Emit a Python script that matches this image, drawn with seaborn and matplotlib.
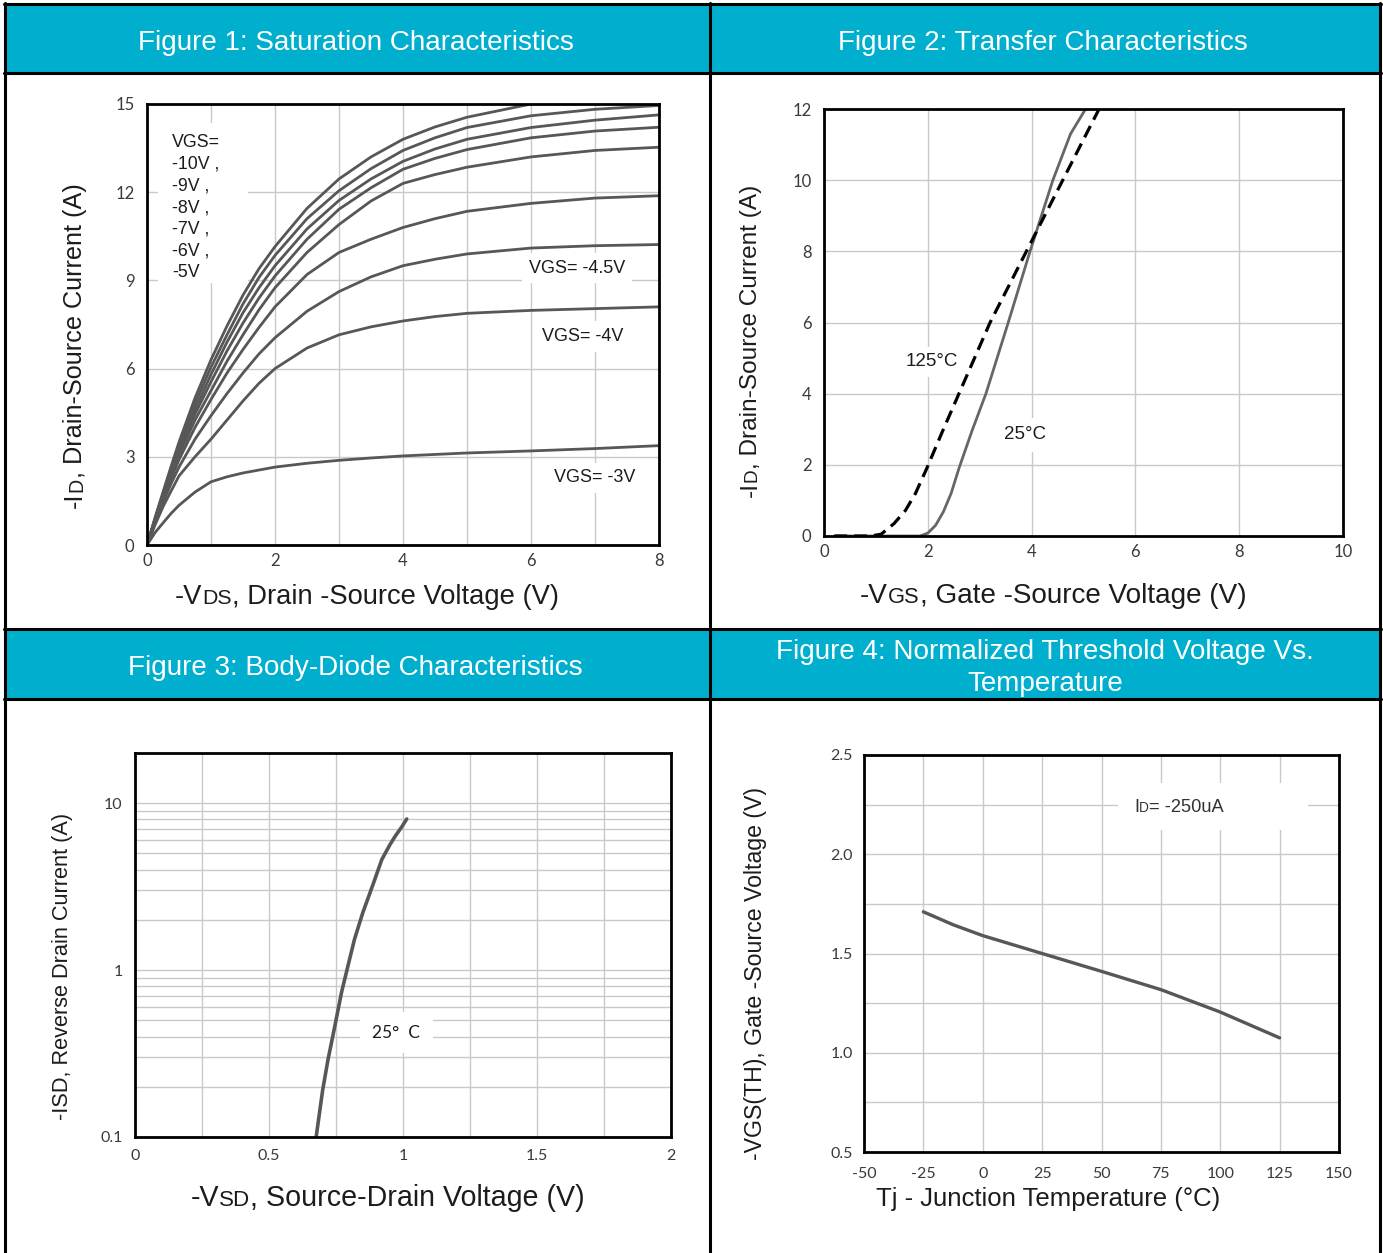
import matplotlib
matplotlib.use("Agg")
import matplotlib.pyplot as plt
import seaborn as sns
import numpy as np
import pandas as pd
from matplotlib import font_manager as fm
from matplotlib.patches import Rectangle
from matplotlib.lines import Line2D

# ---------------- data ----------------
# Figure 1: saturation characteristics
VDS = [0, 0.125, 0.25, 0.375, 0.5, 0.75, 1, 1.25, 1.5, 1.75, 2, 2.5, 3, 3.5, 4, 4.5, 5, 6, 7, 8]
VGS_LEVELS = ["-10V", "-9V", "-8V", "-7V", "-6V", "-5V", "-4.5V", "-4V", "-3V"]
ID_10V = [0, 0.92, 1.8, 2.66, 3.5, 5.0, 6.3, 7.45, 8.5, 9.4, 10.15, 11.45, 12.45, 13.2, 13.8, 14.22, 14.55, 15.0, 15.2, 15.3]
ID_9V = [0, 0.9, 1.75, 2.6, 3.4, 4.8, 6.05, 7.15, 8.2, 9.1, 9.85, 11.1, 12.05, 12.8, 13.42, 13.85, 14.2, 14.6, 14.82, 14.95]
ID_8V = [0, 0.87, 1.7, 2.52, 3.3, 4.6, 5.8, 6.9, 7.9, 8.75, 9.5, 10.75, 11.72, 12.45, 13.05, 13.47, 13.8, 14.2, 14.45, 14.63]
ID_7V = [0, 0.85, 1.65, 2.45, 3.2, 4.45, 5.55, 6.6, 7.55, 8.4, 9.15, 10.4, 11.42, 12.15, 12.78, 13.15, 13.45, 13.85, 14.08, 14.21]
ID_6V = [0, 0.82, 1.6, 2.35, 3.05, 4.25, 5.25, 6.25, 7.15, 8.0, 8.75, 9.95, 10.9, 11.7, 12.3, 12.6, 12.85, 13.2, 13.42, 13.53]
ID_5V = [0, 0.8, 1.55, 2.25, 2.9, 4.0, 4.95, 5.85, 6.65, 7.4, 8.1, 9.2, 9.95, 10.4, 10.8, 11.1, 11.35, 11.62, 11.8, 11.88]
ID_45V = [0, 0.75, 1.45, 2.08, 2.65, 3.6, 4.4, 5.15, 5.85, 6.5, 7.05, 7.95, 8.62, 9.12, 9.5, 9.72, 9.9, 10.1, 10.18, 10.22]
ID_4V = [0, 0.68, 1.3, 1.83, 2.35, 3.0, 3.6, 4.25, 4.9, 5.5, 6.0, 6.7, 7.15, 7.42, 7.62, 7.77, 7.88, 7.98, 8.04, 8.1]
ID_3V = [0, 0.42, 0.75, 1.07, 1.35, 1.8, 2.15, 2.32, 2.45, 2.55, 2.65, 2.78, 2.88, 2.96, 3.03, 3.08, 3.13, 3.2, 3.28, 3.38]

# Figure 2: transfer characteristics
VGS_25 = [0.2, 1.85, 2.0, 2.15, 2.3, 2.45, 2.6, 2.85, 3.12, 3.55, 3.97, 4.41, 4.75, 5.04]
ID_25 = [0, 0, 0.08, 0.3, 0.68, 1.2, 1.9, 2.95, 4.0, 6.0, 8.0, 10.0, 11.3, 12.0]
VGS_125 = [0.2, 0.9, 1.1, 1.35, 1.57, 1.76, 1.98, 2.3, 2.6, 3.2, 3.9, 4.6, 5.3]
ID_125 = [0, 0, 0.05, 0.35, 0.72, 1.19, 1.9, 3.0, 4.0, 6.0, 8.0, 10.0, 12.0]

# Figure 3: body-diode characteristics
VSD = [0.676, 0.70, 0.72, 0.743, 0.771, 0.80, 0.819, 0.85, 0.886, 0.921, 0.95, 0.971, 0.995, 1.014]
ISD = [0.1, 0.19, 0.29, 0.44, 0.74, 1.15, 1.53, 2.21, 3.19, 4.6, 5.6, 6.35, 7.2, 8.05]

# Figure 4: normalized threshold voltage vs temperature
TJ = [-25, -12.5, 0, 12.5, 25, 50, 75, 100, 125]
VTH = [1.71, 1.645, 1.59, 1.545, 1.50, 1.41, 1.318, 1.205, 1.075]

# ---------------- style ----------------
sns.set_theme(style="white")
names = {f.name for f in fm.fontManager.ttflist}
SANS = "Liberation Sans" if "Liberation Sans" in names else "DejaVu Sans"
NARROW = "Liberation Sans Narrow" if "Liberation Sans Narrow" in names else SANS
TICKF = "Lato" if "Lato" in names else SANS
plt.rcParams["font.family"] = [SANS, "DejaVu Sans"]
plt.rcParams["axes.unicode_minus"] = False

W, H = 1383, 1253
fig = plt.figure(figsize=(W / 100, H / 100), dpi=100)
fig.patch.set_facecolor("white")


def fx(x):
    return x / W


def fy(y):
    return 1 - y / H


HEAD = "#00AECD"
for (t, b) in [(4, 73), (629, 699)]:
    fig.patches.append(Rectangle((fx(5), fy(b)), fx(1380) - fx(5), fy(t) - fy(b),
                                 transform=fig.transFigure, facecolor=HEAD,
                                 edgecolor="none", zorder=0))
for y in [4, 73, 629, 699]:
    fig.add_artist(Line2D([fx(4), fx(1381)], [fy(y), fy(y)], color="black", lw=2.2, zorder=1))
for x in [5, 710, 1380]:
    fig.add_artist(Line2D([fx(x), fx(x)], [fy(3), fy(1253)], color="black", lw=2.2, zorder=1))

renderer = fig.canvas.get_renderer()


def fit(parts, family, target_w):
    ws = []
    for s, f in parts:
        t = fig.text(0, 0, s, fontsize=10 * f, family=family)
        ws.append(t.get_window_extent(renderer).width)
        t.remove()
    k = target_w / sum(ws)
    return 10 * k, [w * k for w in ws]


def rich(parts, cx, cy, target_w, family, rot=0, color="#1c1c1c", zorder=5):
    size, ws = fit(parts, family, target_w)
    cap = 0.72 * size * 100 / 72
    if rot == 0:
        x = cx - target_w / 2
        yb = cy + cap / 2
        for (s, f), w in zip(parts, ws):
            fig.text(fx(x), fy(yb), s, fontsize=size * f, family=family, color=color,
                     ha="left", va="baseline", zorder=zorder)
            x += w
    else:
        y = cy + target_w / 2
        xb = cx + cap / 2
        for (s, f), w in zip(parts, ws):
            fig.text(fx(xb), fy(y), s, fontsize=size * f, family=family, color=color,
                     rotation=90, rotation_mode="anchor", ha="left", va="baseline",
                     zorder=zorder)
            y -= w


# headers
rich([("Figure 1: Saturation Characteristics", 1)], 357, 40, 439, NARROW, color="white")
rich([("Figure 2: Transfer Characteristics", 1)], 1045, 40, 413, NARROW, color="white")
rich([("Figure 3: Body-Diode Characteristics", 1)], 357, 665, 457, NARROW, color="white")
hs, _ = fit([("Figure 4: Normalized Threshold Voltage Vs.", 1)], NARROW, 540)
hcap = 0.72 * hs * 100 / 72
fig.text(fx(1045), fy(649 + hcap / 2), "Figure 4: Normalized Threshold Voltage Vs.",
         fontsize=hs, family=NARROW, color="white", ha="center", va="baseline")
fig.text(fx(1045), fy(681 + hcap / 2), "Temperature",
         fontsize=hs, family=NARROW, color="white", ha="center", va="baseline")


def make_ax(l, t, r, b, lsize=12):
    ax = fig.add_axes([fx(l), fy(b), (r - l) / W, (b - t) / H])
    ax.set_facecolor("white")
    for s in ax.spines.values():
        s.set_visible(True)
        s.set_color("black")
        s.set_linewidth(2.0)
    ax.set_axisbelow(True)
    ax.tick_params(which="both", length=0, colors="#3a3a3a", labelsize=lsize,
                   labelfontfamily=TICKF)
    return ax


GRID = dict(color="#C9C9C9", linewidth=1.0)
LINEC = "#575757"

# ---------------- Figure 1 ----------------
ax1 = make_ax(147, 104, 659, 545)
curves = [ID_10V, ID_9V, ID_8V, ID_7V, ID_6V, ID_5V, ID_45V, ID_4V, ID_3V]
df1 = pd.DataFrame({
    "vds": np.tile(VDS, len(curves)),
    "id": np.concatenate(curves),
    "vgs": np.repeat(VGS_LEVELS, len(VDS)),
})
sns.lineplot(data=df1, x="vds", y="id", hue="vgs", palette=[LINEC] * len(curves),
             legend=False, ax=ax1, linewidth=2.0, sort=False, estimator=None, zorder=2)
for ln in ax1.lines:
    ln.set_solid_joinstyle("round")
ax1.set_xlim(0, 8)
ax1.set_ylim(0, 15)
ax1.set_xticks([0, 2, 4, 6, 8])
ax1.set_xticks([1, 3, 5, 7], minor=True)
ax1.set_yticks([0, 3, 6, 9, 12, 15])
ax1.grid(True, which="both", **GRID)
ax1.tick_params(axis="y", pad=9)
ax1.tick_params(axis="x", pad=6)
ax1.set_xlabel("")
ax1.set_ylabel("")
ax1.add_patch(Rectangle((0.17, 8.9), 1.41, 5.45, facecolor="white", edgecolor="none", zorder=1.5))
ax1.text(0.39, 13.98, "VGS=\n-10V ,\n-9V ,\n-8V ,\n-7V ,\n-6V ,\n-5V", ha="left", va="top",
         fontsize=12.8, linespacing=1.36, color="#1c1c1c", zorder=1.8)
box = dict(facecolor="white", edgecolor="none", pad=5)
ax1.text(6.72, 9.42, "VGS= -4.5V", ha="center", va="center", fontsize=13, color="#1c1c1c",
         bbox=box, zorder=1.8)
ax1.text(6.81, 7.1, "VGS= -4V", ha="center", va="center", fontsize=13, color="#1c1c1c",
         bbox=box, zorder=1.8)
ax1.text(7.0, 2.28, "VGS= -3V", ha="center", va="center", fontsize=13, color="#1c1c1c",
         bbox=box, zorder=1.8)
rich([("-V", 1), ("DS", 0.78), (", Drain -Source Voltage (V)", 1)], 368, 594, 386, SANS)
rich([("-I", 1), ("D", 0.78), (", Drain-Source Current (A)", 1)], 73, 345, 325, SANS, rot=90)

# ---------------- Figure 2 ----------------
ax2 = make_ax(824, 109, 1343, 536)
sns.lineplot(x=VGS_25, y=ID_25, ax=ax2, color="#666666", linewidth=2.0, sort=False,
             estimator=None, zorder=2)
sns.lineplot(x=VGS_125, y=ID_125, ax=ax2, color="black", linewidth=2.3, sort=False,
             estimator=None, zorder=2.1)
ax2.lines[-1].set_dashes([4.0, 2.2])
ax2.set_xlim(0, 10)
ax2.set_ylim(0, 12)
ax2.set_xticks([0, 2, 4, 6, 8, 10])
ax2.set_yticks([0, 2, 4, 6, 8, 10, 12])
ax2.grid(True, **GRID)
ax2.tick_params(axis="y", pad=9)
ax2.tick_params(axis="x", pad=6)
ax2.text(2.08, 4.89, "125°C", ha="center", va="center", fontsize=13.5, color="#1c1c1c",
         bbox=dict(facecolor="white", edgecolor="none", pad=5), zorder=1.8)
ax2.text(3.87, 2.84, "25°C", ha="center", va="center", fontsize=13.5, color="#1c1c1c",
         bbox=dict(facecolor="white", edgecolor="none", pad=6), zorder=1.8)
rich([("-V", 1), ("GS", 0.78), (", Gate -Source Voltage (V)", 1)], 1054, 593, 388, SANS)
rich([("-I", 1), ("D", 0.78), (", Drain-Source Current (A)", 1)], 748, 340, 314, SANS, rot=90)

# ---------------- Figure 3 ----------------
ax3 = make_ax(135, 753, 671, 1137, lsize=11.5)
ax3.set_yscale("log")
sns.lineplot(x=VSD, y=ISD, ax=ax3, color=LINEC, linewidth=2.6, sort=False,
             estimator=None, zorder=2)
ax3.set_xlim(0, 2)
ax3.set_ylim(0.1, 20)
ax3.set_xticks([0, 0.5, 1, 1.5, 2])
ax3.set_xticklabels(["0", "0.5", "1", "1.5", "2"])
ax3.set_xticks([0.25, 0.75, 1.25, 1.75], minor=True)
ax3.set_yticks([0.1, 1, 10])
ax3.set_yticklabels(["0.1", "1", "10"])
ax3.set_yticks([m * d for d in (0.1, 1) for m in range(2, 10)], minor=True)
ax3.yaxis.set_minor_formatter(matplotlib.ticker.NullFormatter())
ax3.grid(True, which="both", **GRID)
ax3.tick_params(axis="y", pad=9)
ax3.tick_params(axis="x", pad=9)
ax3.text(0.974, 0.42, "25°  C", ha="center", va="center", fontsize=12.5, color="#1c1c1c",
         family=TICKF, bbox=dict(facecolor="white", edgecolor="none", pad=9), zorder=1.8)
rich([("-V", 1), ("SD", 0.78), (", Source-Drain Voltage (V)", 1)], 388, 1196, 395, SANS)
rich([("-ISD, Reverse Drain Current (A)", 1)], 60, 965, 310, NARROW, rot=90)

# ---------------- Figure 4 ----------------
ax4 = make_ax(864, 755, 1339, 1152, lsize=11.5)
sns.lineplot(x=TJ, y=VTH, ax=ax4, color=LINEC, linewidth=2.4, sort=False,
             estimator=None, zorder=2)
ax4.set_xlim(-50, 150)
ax4.set_ylim(0.5, 2.5)
ax4.set_xticks([-50, -25, 0, 25, 50, 75, 100, 125, 150])
ax4.set_xticklabels(["-50", "-25", "0", "25", "50", "75", "100", "125", "150"])
ax4.set_yticks([0.5, 1.0, 1.5, 2.0, 2.5])
ax4.set_yticklabels(["0.5", "1.0", "1.5", "2.0", "2.5"])
ax4.set_yticks([0.75, 1.25, 1.75, 2.25], minor=True)
ax4.grid(True, which="both", **GRID)
ax4.tick_params(axis="y", pad=8)
ax4.tick_params(axis="x", pad=11)
ax4.add_patch(Rectangle((57, 2.12), 80, 0.24, facecolor="white", edgecolor="none", zorder=1.5))
rich([("I", 1), ("D", 0.75), ("= -250uA", 1)], 1179, 805, 90, SANS, color="#333333")
rich([("Tj - Junction Temperature (°C)", 1)], 1049, 1197, 346, SANS)
rich([("-VGS(TH), Gate -Source Voltage (V)", 1)], 754, 972, 375, NARROW, rot=90)

fig.savefig("out.png", dpi=100, facecolor="white")
